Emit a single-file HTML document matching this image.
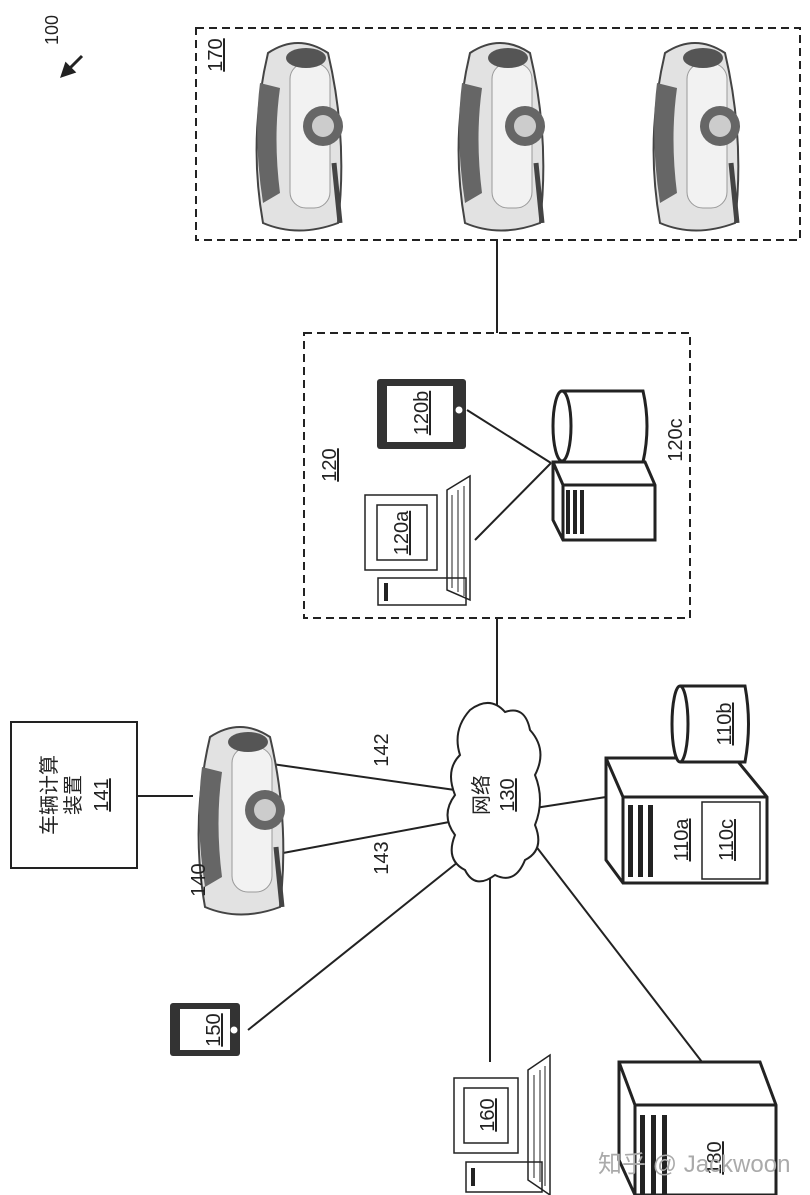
<!DOCTYPE html>
<html><head><meta charset="utf-8"><style>
html,body{margin:0;padding:0;background:#fff;}
svg{display:block}
text{font-family:"Liberation Sans","Noto Sans CJK SC",sans-serif;fill:#222}
</style></head><body>
<svg width="810" height="1195" viewBox="0 0 810 1195" xmlns="http://www.w3.org/2000/svg">
<defs>
<g id="car">
<path d="M20 15 Q50 -5 80 15 Q100 100 90 185 Q50 200 15 185 Q0 100 20 15 Z" fill="#e2e2e2" stroke="#444" stroke-width="2"/>
<path d="M12 45 Q5 100 15 165 L32 155 Q25 100 32 50 Z" fill="#666"/>
<rect x="42" y="25" width="40" height="145" rx="16" fill="#f2f2f2" stroke="#999"/>
<ellipse cx="58" cy="20" rx="20" ry="10" fill="#555"/>
<ellipse cx="75" cy="88" rx="20" ry="20" fill="#666"/>
<circle cx="75" cy="88" r="11" fill="#ccc"/>
<path d="M86 125 L92 185" stroke="#444" stroke-width="5"/>
</g>
</defs>
<g stroke="#222" stroke-width="2.5" fill="none">
<path d="M82 56 L66 72" stroke-width="3"/>
<path d="M62 76 L74 72 L66 64 Z" fill="#222"/>
<rect x="196" y="28" width="604" height="212" stroke-dasharray="8,5" stroke-width="2"/>
<rect x="304" y="333" width="386" height="285" stroke-dasharray="8,5" stroke-width="2"/>
<rect x="11" y="722" width="126" height="146" stroke-width="2"/>
<line x1="497" y1="240" x2="497" y2="333" stroke-width="2"/>
<line x1="497" y1="618" x2="497" y2="705" stroke-width="2"/>
<line x1="137" y1="796" x2="193" y2="796" stroke-width="2"/>
<line x1="272" y1="764" x2="455" y2="790" stroke-width="2"/>
<line x1="283" y1="853" x2="460" y2="820" stroke-width="2"/>
<line x1="535" y1="808" x2="606" y2="797" stroke-width="2"/>
<line x1="248" y1="1030" x2="458" y2="862" stroke-width="2"/>
<line x1="490" y1="872" x2="490" y2="1062" stroke-width="2"/>
<line x1="535" y1="845" x2="702" y2="1062" stroke-width="2"/>
<line x1="467" y1="410" x2="551" y2="463" stroke-width="2"/>
<line x1="475" y1="540" x2="551" y2="463" stroke-width="2"/>
<path d="M470 710 Q490 695 505 712 Q525 705 530 730 Q548 750 535 775 Q545 800 535 825 Q545 850 525 860 Q515 885 495 875 Q475 890 465 870 Q445 860 455 835 Q440 815 455 795 Q445 770 460 755 Q452 730 470 710 Z" fill="#fff" stroke-width="2"/>
<path d="M606 758 L735 758 L767 797 L767 883 L623 883 L606 860 Z" fill="#fff" stroke-width="3"/>
<path d="M606 758 L623 797 L767 797 M623 797 L623 883" stroke-width="3"/>
<rect x="628" y="805" width="5" height="72" fill="#222" stroke="none"/>
<rect x="638" y="805" width="5" height="72" fill="#222" stroke="none"/>
<rect x="648" y="805" width="5" height="72" fill="#222" stroke="none"/>
<rect x="702" y="802" width="58" height="77" stroke-width="1.5"/>
<path d="M680 686 L745 686 Q752 724 745 762 L680 762" fill="#fff" stroke-width="3"/>
<ellipse cx="680" cy="724" rx="8" ry="38" fill="#fff" stroke-width="3"/>
<path d="M562 391 L643 391 Q651 426 643 462 L562 462" fill="#fff" stroke-width="3"/>
<ellipse cx="562" cy="426" rx="9" ry="35" fill="#fff" stroke-width="3"/>
<path d="M553 462 L645 462 L655 485 L655 540 L563 540 L553 520 Z" fill="#fff" stroke-width="3"/>
<path d="M553 462 L563 485 L655 485 M563 485 L563 540" stroke-width="3"/>
<rect x="566" y="490" width="4" height="44" fill="#222" stroke="none"/>
<rect x="573" y="490" width="4" height="44" fill="#222" stroke="none"/>
<rect x="580" y="490" width="4" height="44" fill="#222" stroke="none"/>
<rect x="377" y="379" width="89" height="70" rx="3" fill="#333" stroke="none"/>
<rect x="387" y="386" width="66" height="56" fill="#fff" stroke="none"/>
<circle cx="459" cy="410" r="3.5" fill="#fff" stroke="none"/>
<rect x="365" y="495" width="72" height="75" stroke-width="1.5"/>
<rect x="377" y="505" width="50" height="55" stroke-width="1.5"/>
<rect x="378" y="578" width="88" height="27" stroke-width="1.5"/>
<rect x="384" y="583" width="4" height="18" fill="#222" stroke="none"/>
<path d="M447 490 L470 476 L470 600 L447 590 Z" stroke-width="1.5"/>
<path d="M452 495 L452 588 M458 490 L458 592 M464 486 L464 596" stroke-width="1"/>
<rect x="170" y="1003" width="70" height="53" rx="3" fill="#333" stroke="none"/>
<rect x="180" y="1009" width="50" height="41" fill="#fff" stroke="none"/>
<circle cx="234" cy="1030" r="3.5" fill="#fff" stroke="none"/>
<rect x="454" y="1078" width="64" height="75" stroke-width="1.5"/>
<rect x="464" y="1088" width="44" height="55" stroke-width="1.5"/>
<rect x="466" y="1162" width="76" height="30" stroke-width="1.5"/>
<rect x="471" y="1168" width="4" height="18" fill="#222" stroke="none"/>
<path d="M528 1070 L550 1055 L550 1195 L528 1180 Z" stroke-width="1.5"/>
<path d="M534 1075 L534 1178 M540 1070 L540 1182 M545 1066 L545 1186" stroke-width="1"/>
<path d="M619 1062 L760 1062 L776 1105 L776 1195 L635 1195 L619 1160 Z" fill="#fff" stroke-width="3"/>
<path d="M619 1062 L635 1105 L776 1105 M635 1105 L635 1195" stroke-width="3"/>
<rect x="640" y="1115" width="5" height="80" fill="#222" stroke="none"/>
<rect x="651" y="1115" width="5" height="80" fill="#222" stroke="none"/>
<rect x="662" y="1115" width="5" height="80" fill="#222" stroke="none"/>
</g>
<use href="#car" x="248" y="38"/>
<use href="#car" x="450" y="38"/>
<use href="#car" x="645" y="38"/>
<use href="#car" x="190" y="722"/>
<g font-size="20">
<text transform="translate(58,30) rotate(-90)" text-anchor="middle" font-size="18">100</text>
<text transform="translate(222,55) rotate(-90)" text-anchor="middle" text-decoration="underline">170</text>
<text transform="translate(336,465) rotate(-90)" text-anchor="middle" text-decoration="underline">120</text>
<text transform="translate(682,440) rotate(-90)" text-anchor="middle">120c</text>
<text transform="translate(428,413) rotate(-90)" text-anchor="middle" text-decoration="underline">120b</text>
<text transform="translate(408,533) rotate(-90)" text-anchor="middle" text-decoration="underline">120a</text>
<text transform="translate(56,795) rotate(-90)" text-anchor="middle">车辆计算</text>
<text transform="translate(80,795) rotate(-90)" text-anchor="middle">装置</text>
<text transform="translate(108,795) rotate(-90)" text-anchor="middle" text-decoration="underline">141</text>
<text transform="translate(205,880) rotate(-90)" text-anchor="middle">140</text>
<text transform="translate(388,750) rotate(-90)" text-anchor="middle">142</text>
<text transform="translate(388,858) rotate(-90)" text-anchor="middle">143</text>
<text transform="translate(488,795) rotate(-90)" text-anchor="middle">网络</text>
<text transform="translate(514,795) rotate(-90)" text-anchor="middle" text-decoration="underline">130</text>
<text transform="translate(688,840) rotate(-90)" text-anchor="middle" text-decoration="underline">110a</text>
<text transform="translate(731,724) rotate(-90)" text-anchor="middle" text-decoration="underline">110b</text>
<text transform="translate(733,840) rotate(-90)" text-anchor="middle" text-decoration="underline">110c</text>
<text transform="translate(220,1030) rotate(-90)" text-anchor="middle" text-decoration="underline">150</text>
<text transform="translate(494,1115) rotate(-90)" text-anchor="middle" text-decoration="underline">160</text>
<text transform="translate(721,1158) rotate(-90)" text-anchor="middle" text-decoration="underline">180</text>
</g>
<text x="598" y="1172" font-size="24" style="fill:#aaa">知乎 @ Jackwoon</text>
</svg>
</body></html>
